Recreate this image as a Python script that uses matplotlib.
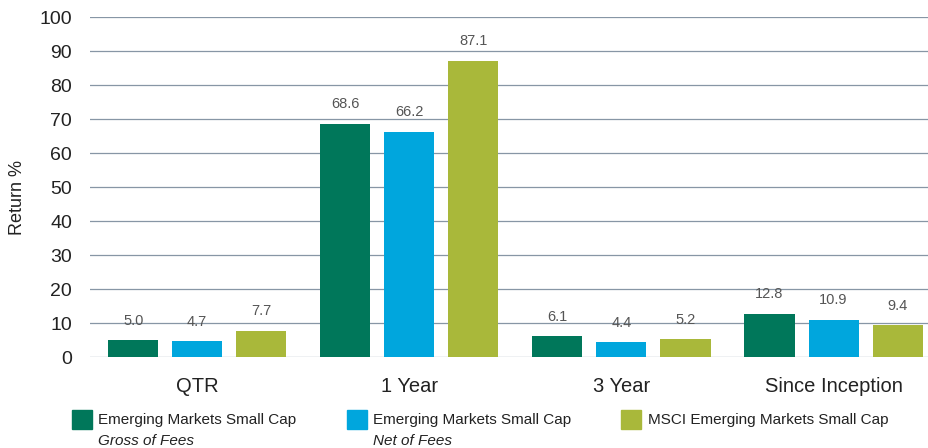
import matplotlib.pyplot as plt
import matplotlib.patches as mpatches
import numpy as np

plt.rcParams['font.family'] = ['Liberation Sans', 'DejaVu Sans']

categories = ["QTR", "1 Year", "3 Year", "Since Inception"]
gross = [5.0, 68.6, 6.1, 12.8]
net = [4.7, 66.2, 4.4, 10.9]
msci = [7.7, 87.1, 5.2, 9.4]
series_names = ["Emerging Markets Small Cap", "Emerging Markets Small Cap",
                "MSCI Emerging Markets Small Cap"]
series_notes = ["Gross of Fees", "Net of Fees", ""]
colors = ["#00775a", "#00a6dd", "#a9b83a"]

fig = plt.figure(figsize=(9.29, 4.48), dpi=100)
ax = fig.add_axes([0.097, 0.203, 0.903, 0.759])

x = np.arange(len(categories))
w = 0.236
off = 0.302
for i, vals in enumerate([gross, net, msci]):
    bars = ax.bar(x + (i - 1) * off, vals, w, color=colors[i], zorder=3)
    for b, v in zip(bars, vals):
        ax.annotate(f"{v:.1f}", (b.get_x() + b.get_width() / 2, v),
                    xytext=(0, 9), textcoords="offset points",
                    ha="center", va="bottom", fontsize=10.5, color="#555555")

ax.set_ylim(0, 100)
ax.set_xlim(-0.505, 3.45)
ax.set_yticks(range(0, 101, 10))
ax.yaxis.grid(True, color="#8796a5", linewidth=0.9, zorder=0)
for s in ax.spines.values():
    s.set_visible(False)
ax.tick_params(axis="y", length=0, pad=13, labelsize=14, labelcolor="#222222")
ax.tick_params(axis="x", length=0, pad=14, labelsize=14.5, labelcolor="#222222")
ax.set_xticks(x)
ax.set_xticklabels(categories)
ax.set_ylabel("Return %", fontsize=13, color="#222222")
ax.yaxis.set_label_coords(-0.076, 0.47)

# legend
sq_x = [0.0775, 0.3735, 0.6685]
txt_x = [0.1054, 0.4014, 0.6974]
for i in range(3):
    fig.patches.append(mpatches.Rectangle((sq_x[i], 0.0424), 0.0215, 0.0424,
                                          transform=fig.transFigure,
                                          color=colors[i]))
    fig.text(txt_x[i], 0.0625, series_names[i], fontsize=11,
             color="#222222", va="center")
    if series_notes[i]:
        fig.text(txt_x[i], 0.016, series_notes[i], fontsize=11,
                 color="#222222", va="center", style="italic")

fig.savefig("out.png", dpi=100)
